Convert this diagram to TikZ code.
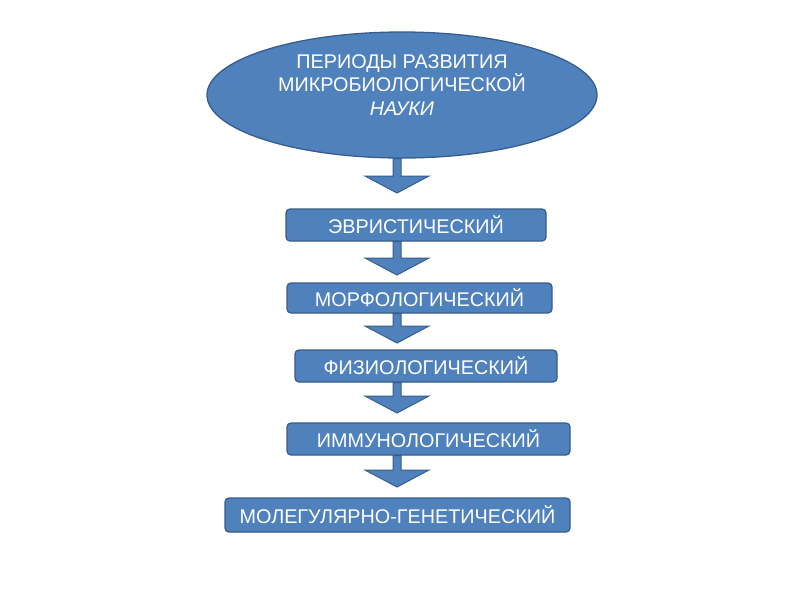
\documentclass[tikz,border=0pt]{standalone}
\usepackage{fontspec}
\setmainfont{Liberation Sans}
\usetikzlibrary{shapes.geometric,calc}
\definecolor{fillblue}{HTML}{4F81BD}
\definecolor{edgeblue}{HTML}{385D8A}
\tikzset{
  stagebox/.style={draw=edgeblue, fill=fillblue, line width=1.3pt, rounded corners=4pt,
    text=white, font=\fontsize{19.8}{22}\selectfont, inner sep=0pt},
  topell/.style={ellipse, draw=edgeblue, fill=fillblue, line width=1.3pt, inner sep=0pt,
    minimum width=390pt, minimum height=126pt},
  toptext/.style={text=white, align=center, font=\fontsize{19.8}{23.5}\selectfont},
  blockarrow/.style={draw=edgeblue, fill=fillblue, line width=1pt, line join=miter}
}
\newcommand{\blockarr}[2]{% #1 = start coordinate, #2 = tip coordinate
  \draw[blockarrow] ($(#1)+(-4,0)$) -- ($(#2)+(-4,-17)$) -- ($(#2)+(-32,-17)$) -- (#2)
    -- ($(#2)+(32,-17)$) -- ($(#2)+(4,-17)$) -- ($(#1)+(4,0)$) -- cycle;
}
\begin{document}
\begin{tikzpicture}[x=1pt,y=-1pt]
\useasboundingbox[fill=white] (0,0) rectangle (800,600);
\node[topell] (top) at (402,95) {};
\node[toptext] (toplbl) at (402,85) {ПЕРИОДЫ РАЗВИТИЯ\\МИКРОБИОЛОГИЧЕСКОЙ\\\textit{НАУКИ}};
\node[stagebox, minimum width=260pt, minimum height=32pt] (b1) at (416,225) {ЭВРИСТИЧЕСКИЙ};
\node[stagebox, minimum width=265pt, minimum height=30pt] (b2) at (419.5,298) {МОРФОЛОГИЧЕСКИЙ};
\node[stagebox, minimum width=262pt, minimum height=32pt] (b3) at (426,366) {ФИЗИОЛОГИЧЕСКИЙ};
\node[stagebox, minimum width=283pt, minimum height=32pt] (b4) at (428.5,439) {ИММУНОЛОГИЧЕСКИЙ};
\node[stagebox, minimum width=345pt, minimum height=34pt] (b5) at (397.5,515) {МОЛЕГУЛЯРНО-ГЕНЕТИЧЕСКИЙ};
\coordinate (t1) at (397,193);
\coordinate (t2) at (397,275);
\coordinate (t3) at (397,343);
\coordinate (t4) at (397,413);
\coordinate (t5) at (397,487);
\path (top.south -| t1) coordinate (s1);
\path (b1.south -| t2) coordinate (s2);
\path (b2.south -| t3) coordinate (s3);
\path (b3.south -| t4) coordinate (s4);
\path (b4.south -| t5) coordinate (s5);
\blockarr{s1}{t1}
\blockarr{s2}{t2}
\blockarr{s3}{t3}
\blockarr{s4}{t4}
\blockarr{s5}{t5}
\end{tikzpicture}
\end{document}
